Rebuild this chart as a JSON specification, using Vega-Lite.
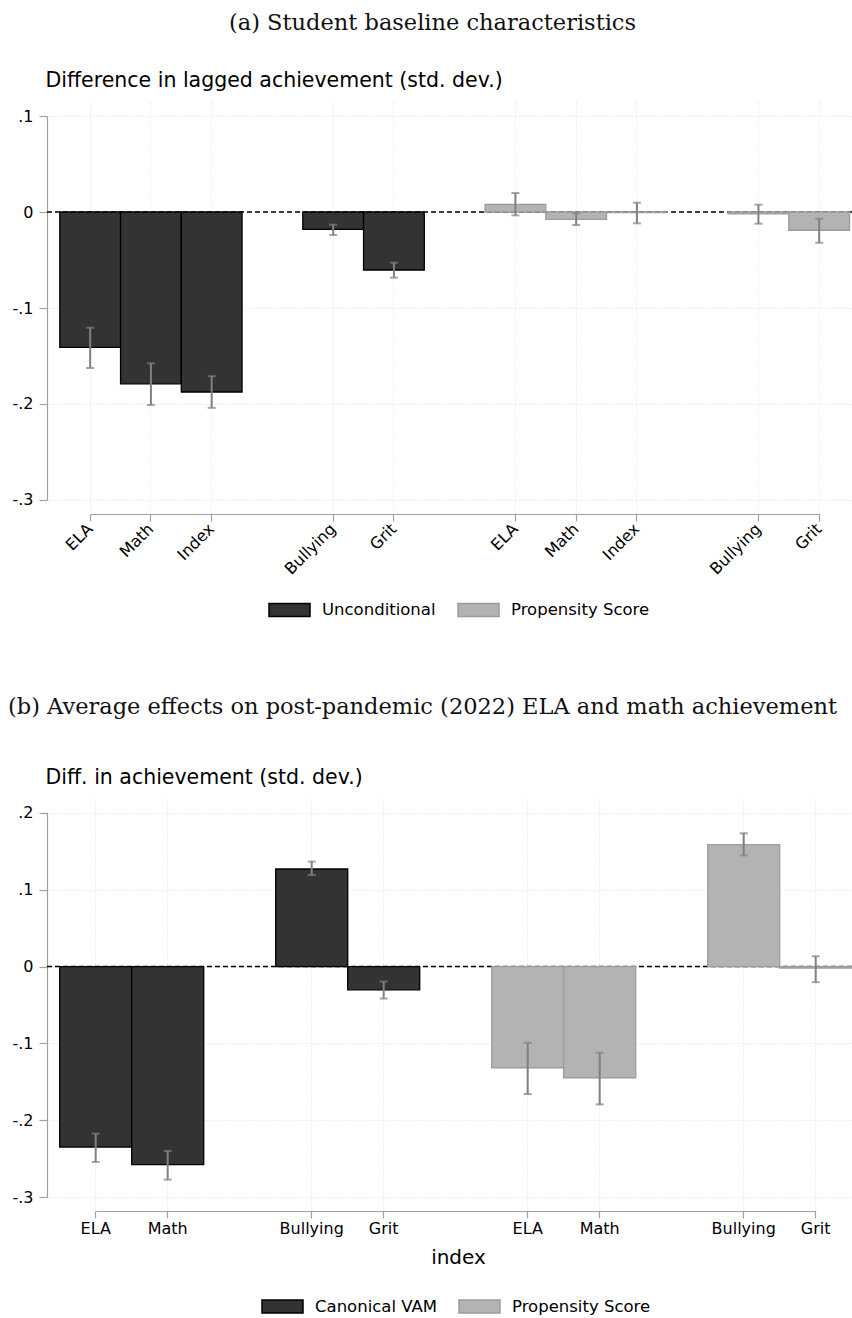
{
  "$schema": "https://vega.github.io/schema/vega-lite/v6.json",
  "background": "white",
  "padding": {"left": 8, "top": 11, "right": 0, "bottom": 0},
  "spacing": 76,
  "config": {
    "view": {"stroke": null},
    "font": "DejaVu Sans",
    "axis": {
      "labelFont": "DejaVu Sans", "titleFont": "DejaVu Sans",
      "labelColor": "#000000", "titleColor": "#000000",
      "tickColor": "#a0a0a0", "domainColor": "#a0a0a0", "domainWidth": 1.2, "tickWidth": 1.2,
      "gridColor": "#dedede", "gridDash": [1, 2], "gridWidth": 1,
      "titleFontWeight": "normal", "labelFontSize": 16
    },
    "legend": {"labelFont": "DejaVu Sans"},
    "title": {"font": "DejaVu Serif", "fontWeight": "normal", "fontSize": 22.5, "color": "#111111"}
  },
  "resolve": {
    "scale": {"fill": "independent", "stroke": "independent", "x": "independent", "y": "independent"},
    "legend": {"fill": "independent", "stroke": "independent"}
  },
  "vconcat": [
    {
      "width": 805,
      "height": 412,
      "title": {"text": "(a) Student baseline characteristics", "anchor": "start", "frame": "group", "dx": 182, "offset": 36},
      "data": {"values": [
        {"slot": "U-ELA", "group": "Unconditional", "est": -0.141, "lo": -0.1625, "hi": -0.1205},
        {"slot": "U-Math", "group": "Unconditional", "est": -0.179, "lo": -0.201, "hi": -0.1577},
        {"slot": "U-Index", "group": "Unconditional", "est": -0.1875, "lo": -0.204, "hi": -0.171},
        {"slot": "U-Bullying", "group": "Unconditional", "est": -0.018, "lo": -0.024, "hi": -0.0132},
        {"slot": "U-Grit", "group": "Unconditional", "est": -0.0604, "lo": -0.0684, "hi": -0.0528},
        {"slot": "P-ELA", "group": "Propensity Score", "est": 0.008, "lo": -0.0035, "hi": 0.0198},
        {"slot": "P-Math", "group": "Propensity Score", "est": -0.0076, "lo": -0.0135, "hi": -0.0014},
        {"slot": "P-Index", "group": "Propensity Score", "est": -0.0007, "lo": -0.0118, "hi": 0.0097},
        {"slot": "P-Bullying", "group": "Propensity Score", "est": -0.002, "lo": -0.0122, "hi": 0.0076},
        {"slot": "P-Grit", "group": "Propensity Score", "est": -0.019, "lo": -0.032, "hi": -0.007}
      ]},
      "layer": [
        {
          "data": {"values": [{}]},
          "mark": {"type": "rule", "color": "#000000", "strokeDash": [5, 3], "strokeWidth": 1.4},
          "encoding": {"y": {"datum": 0, "type": "quantitative", "scale": {"domain": [-0.3146, 0.1146], "nice": false, "zero": false}}}
        },
        {
          "mark": {"type": "bar", "strokeWidth": 1.3},
          "encoding": {
            "x": {"field": "slot", "type": "nominal",
              "scale": {"domain": ["U-ELA", "U-Math", "U-Index", "gap1", "U-Bullying", "U-Grit", "gap2", "P-ELA", "P-Math", "P-Index", "gap3", "P-Bullying", "P-Grit"], "paddingInner": 0, "paddingOuter": 0.1255, "align": 0.839},
              "axis": {"title": null, "values": ["U-ELA", "U-Math", "U-Index", "U-Bullying", "U-Grit", "P-ELA", "P-Math", "P-Index", "P-Bullying", "P-Grit"],
                "labelExpr": "split(datum.value, '-')[1]", "labelAngle": -45, "labelAlign": "right", "labelBaseline": "middle",
                "tickSize": 7, "labelPadding": 5, "bandPosition": 0.5, "grid": true, "domainDash": [0, 43.2, 729, 3000]}},
            "y": {"field": "est", "type": "quantitative",
              "scale": {"domain": [-0.3146, 0.1146], "nice": false, "zero": false},
              "axis": {"title": "Difference in lagged achievement (std. dev.)", "values": [-0.3, -0.2, -0.1, 0, 0.1],
                "labelExpr": "datum.value == 0 ? '0' : (datum.value < 0 ? '-' : '') + '.' + format(abs(datum.value) * 10, '.0f')",
                "titleAngle": 0, "titleAlign": "left", "titleBaseline": "alphabetic", "titleX": -2, "titleY": -16, "titleFontSize": 20.5,
                "tickSize": 8, "labelPadding": 6, "grid": true, "domainDash": [0, 14, 384, 3000]}},
            "fill": {"field": "group", "type": "nominal",
              "scale": {"domain": ["Unconditional", "Propensity Score"], "range": ["#333333", "#b3b3b3"]},
              "legend": {"title": null, "orient": "none", "legendX": 221, "legendY": 499, "direction": "horizontal",
                "symbolType": "M-1,-0.32H1V0.32H-1Z", "symbolSize": 1681, "symbolStrokeWidth": 1.5, "clipHeight": 18,
                "labelFontSize": 16.5, "labelOffset": 11, "columnPadding": 21, "labelColor": "#000000", "padding": 0}},
            "stroke": {"field": "group", "type": "nominal",
              "scale": {"domain": ["Unconditional", "Propensity Score"], "range": ["#000000", "#9c9c9c"]},
              "legend": {"title": null, "orient": "none", "legendX": 221, "legendY": 499, "direction": "horizontal",
                "symbolType": "M-1,-0.32H1V0.32H-1Z", "symbolSize": 1681, "symbolStrokeWidth": 1.5, "clipHeight": 18,
                "labelFontSize": 16.5, "labelOffset": 11, "columnPadding": 21, "labelColor": "#000000", "padding": 0}}
          }
        },
        {
          "mark": {"type": "rule", "color": "#808080", "strokeWidth": 2},
          "encoding": {
            "x": {"field": "slot", "type": "nominal"},
            "y": {"field": "lo", "type": "quantitative", "scale": {"domain": [-0.3146, 0.1146], "nice": false, "zero": false}},
            "y2": {"field": "hi"}
          }
        },
        {
          "mark": {"type": "tick", "color": "#808080", "thickness": 2, "size": 8},
          "encoding": {
            "x": {"field": "slot", "type": "nominal"},
            "y": {"field": "lo", "type": "quantitative", "scale": {"domain": [-0.3146, 0.1146], "nice": false, "zero": false}}
          }
        },
        {
          "mark": {"type": "tick", "color": "#808080", "thickness": 2, "size": 8},
          "encoding": {
            "x": {"field": "slot", "type": "nominal"},
            "y": {"field": "hi", "type": "quantitative", "scale": {"domain": [-0.3146, 0.1146], "nice": false, "zero": false}}
          }
        }
      ]
    },
    {
      "width": 805,
      "height": 412,
      "title": {"text": "(b) Average effects on post-pandemic (2022) ELA and math achievement", "anchor": "start", "frame": "group", "dx": -39, "offset": 49},
      "data": {"values": [
        {"slot": "C-ELA", "group": "Canonical VAM", "est": -0.2347, "lo": -0.254, "hi": -0.2173},
        {"slot": "C-Math", "group": "Canonical VAM", "est": -0.2576, "lo": -0.277, "hi": -0.2398},
        {"slot": "C-Bullying", "group": "Canonical VAM", "est": 0.1268, "lo": 0.119, "hi": 0.1364},
        {"slot": "C-Grit", "group": "Canonical VAM", "est": -0.0303, "lo": -0.0416, "hi": -0.0195},
        {"slot": "P-ELA", "group": "Propensity Score", "est": -0.1316, "lo": -0.1658, "hi": -0.0991},
        {"slot": "P-Math", "group": "Propensity Score", "est": -0.1446, "lo": -0.1792, "hi": -0.1121},
        {"slot": "P-Bullying", "group": "Propensity Score", "est": 0.1584, "lo": 0.1446, "hi": 0.1732},
        {"slot": "P-Grit", "group": "Propensity Score", "est": -0.002, "lo": -0.0203, "hi": 0.0134}
      ]},
      "layer": [
        {
          "data": {"values": [{}]},
          "mark": {"type": "rule", "color": "#000000", "strokeDash": [5, 3], "strokeWidth": 1.4},
          "encoding": {"y": {"datum": 0, "type": "quantitative", "scale": {"domain": [-0.3178, 0.2178], "nice": false, "zero": false}}}
        },
        {
          "mark": {"type": "bar", "strokeWidth": 1.3},
          "encoding": {
            "x": {"field": "slot", "type": "nominal",
              "scale": {"domain": ["C-ELA", "C-Math", "gap1", "C-Bullying", "C-Grit", "gap2", "P-ELA", "P-Math", "gap3", "P-Bullying", "P-Grit"], "paddingInner": 0, "paddingOuter": 0.0903, "align": 0.977},
              "axis": {"title": "index", "values": ["C-ELA", "C-Math", "C-Bullying", "C-Grit", "P-ELA", "P-Math", "P-Bullying", "P-Grit"],
                "labelExpr": "split(datum.value, '-')[1]", "labelAngle": 0, "labelAlign": "center", "labelBaseline": "top",
                "tickSize": 7, "labelPadding": 2, "bandPosition": 0.5, "grid": true, "domainDash": [0, 48.7, 720, 3000],
                "titleFontSize": 20, "titleX": 411, "titleY": 52, "titleBaseline": "alphabetic", "titleAlign": "center"}},
            "y": {"field": "est", "type": "quantitative",
              "scale": {"domain": [-0.3178, 0.2178], "nice": false, "zero": false},
              "axis": {"title": "Diff. in achievement (std. dev.)", "values": [-0.3, -0.2, -0.1, 0, 0.1, 0.2],
                "labelExpr": "datum.value == 0 ? '0' : (datum.value < 0 ? '-' : '') + '.' + format(abs(datum.value) * 10, '.0f')",
                "titleAngle": 0, "titleAlign": "left", "titleBaseline": "alphabetic", "titleX": -2, "titleY": -16, "titleFontSize": 20.5,
                "tickSize": 8, "labelPadding": 6, "grid": true, "domainDash": [0, 13.7, 385, 3000]}},
            "fill": {"field": "group", "type": "nominal",
              "scale": {"domain": ["Canonical VAM", "Propensity Score"], "range": ["#333333", "#b3b3b3"]},
              "legend": {"title": null, "orient": "none", "legendX": 214, "legendY": 498.5, "direction": "horizontal",
                "symbolType": "M-1,-0.32H1V0.32H-1Z", "symbolSize": 1681, "symbolStrokeWidth": 1.5, "clipHeight": 18,
                "labelFontSize": 16.5, "labelOffset": 11, "columnPadding": 21, "labelColor": "#000000", "padding": 0}},
            "stroke": {"field": "group", "type": "nominal",
              "scale": {"domain": ["Canonical VAM", "Propensity Score"], "range": ["#000000", "#9c9c9c"]},
              "legend": {"title": null, "orient": "none", "legendX": 214, "legendY": 498.5, "direction": "horizontal",
                "symbolType": "M-1,-0.32H1V0.32H-1Z", "symbolSize": 1681, "symbolStrokeWidth": 1.5, "clipHeight": 18,
                "labelFontSize": 16.5, "labelOffset": 11, "columnPadding": 21, "labelColor": "#000000", "padding": 0}}
          }
        },
        {
          "mark": {"type": "rule", "color": "#808080", "strokeWidth": 2},
          "encoding": {
            "x": {"field": "slot", "type": "nominal"},
            "y": {"field": "lo", "type": "quantitative", "scale": {"domain": [-0.3178, 0.2178], "nice": false, "zero": false}},
            "y2": {"field": "hi"}
          }
        },
        {
          "mark": {"type": "tick", "color": "#808080", "thickness": 2, "size": 8},
          "encoding": {
            "x": {"field": "slot", "type": "nominal"},
            "y": {"field": "lo", "type": "quantitative", "scale": {"domain": [-0.3178, 0.2178], "nice": false, "zero": false}}
          }
        },
        {
          "mark": {"type": "tick", "color": "#808080", "thickness": 2, "size": 8},
          "encoding": {
            "x": {"field": "slot", "type": "nominal"},
            "y": {"field": "hi", "type": "quantitative", "scale": {"domain": [-0.3178, 0.2178], "nice": false, "zero": false}}
          }
        }
      ]
    }
  ]
}
